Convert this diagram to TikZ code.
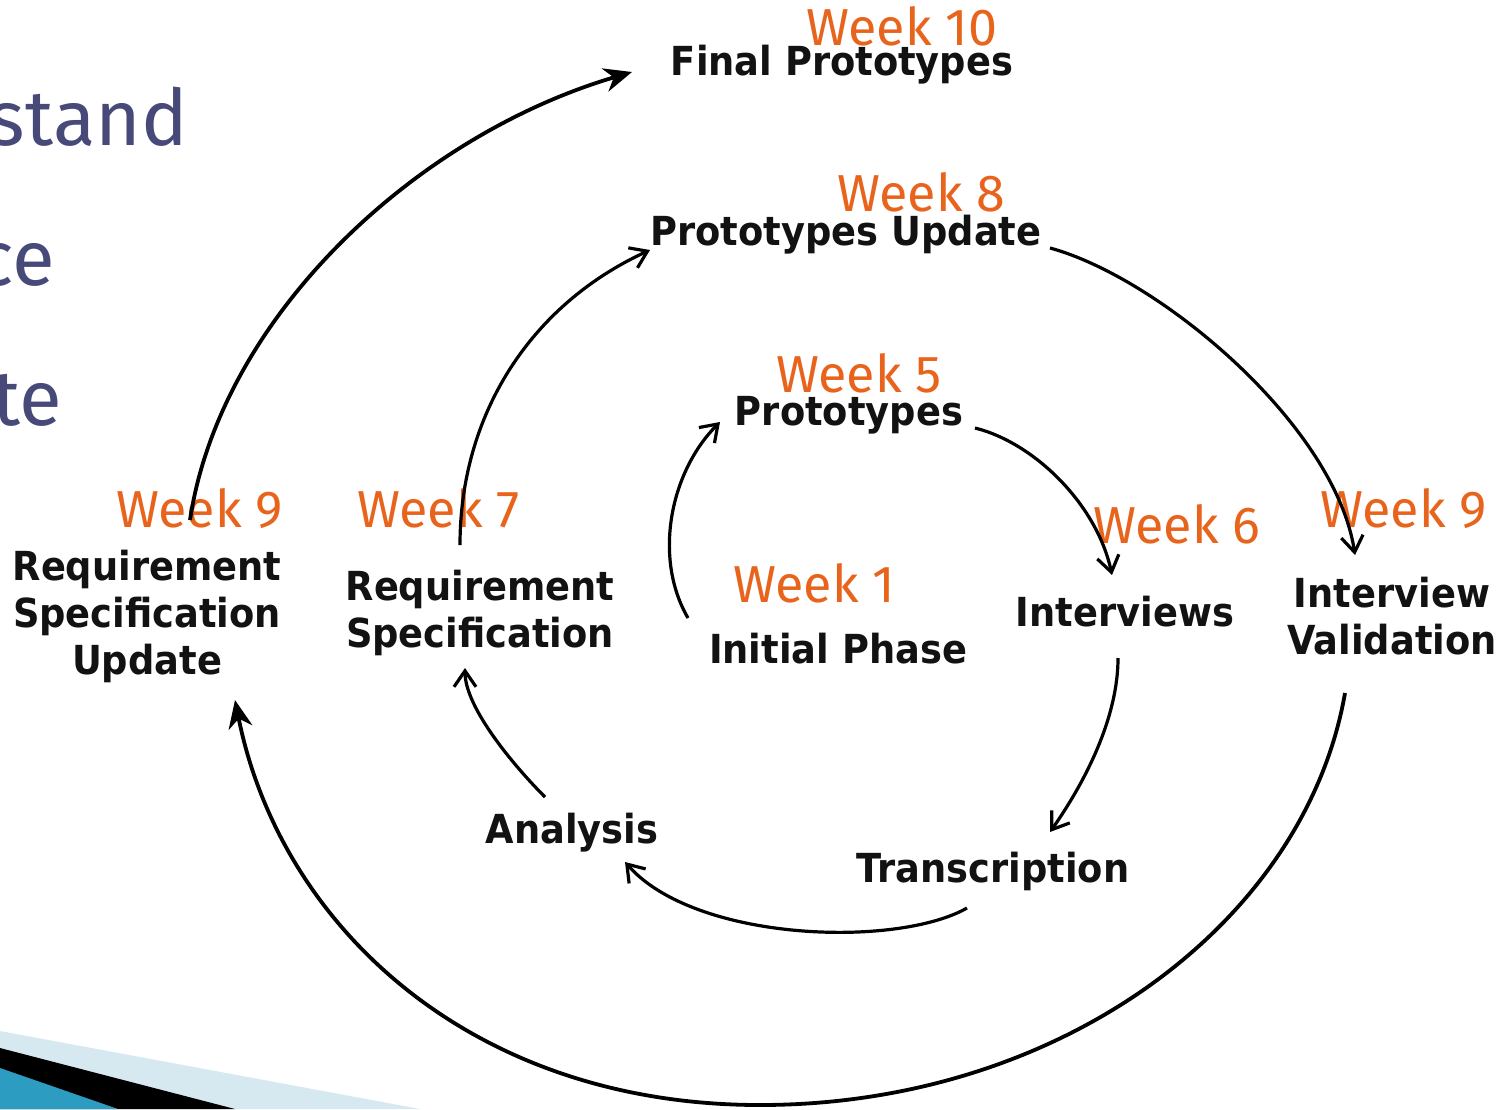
\documentclass[tikz,border=0pt]{standalone}
\usepackage{fontspec}
\usepackage{tikz}
\usetikzlibrary{arrows.meta}
\newfontfamily\weekfont{Fira Sans}
\newfontfamily\stagefont[FakeStretch=0.92]{DejaVu Sans}
\definecolor{weekorange}{HTML}{E8641C}
\definecolor{slideblue}{HTML}{474A79}
\definecolor{barlight}{HTML}{D6E9F1}
\definecolor{barblue}{HTML}{2C9DC0}

\tikzset{
  week/.style={anchor=base west, inner sep=0pt, text=weekorange,
    font=\weekfont\fontsize{52}{54}\selectfont},
  stage/.style={inner sep=0pt, align=center, text=black!93,
    font=\stagefont\bfseries\fontsize{40}{47}\selectfont},
  slide/.style={anchor=base east, inner sep=0pt, text=slideblue,
    font=\weekfont\fontsize{78}{80}\selectfont},
  flow/.style={line width=3.2pt, -{Straight Barb[length=16pt,width=22pt]}},
  bigflow/.style={line width=3.8pt, -{Stealth[length=28pt,width=24pt,inset=9pt]}}
}

\begin{document}
\begin{tikzpicture}[x=1pt,y=-1pt]
  \useasboundingbox[fill=white] (0,0) rectangle (1503,1109);

  % slide background
  \node[slide] (s1) at (188,145) {stand};
  \node[slide] (s2) at (55,285) {ce};
  \node[slide] (s3) at (62,425) {te};
  \fill[barlight] (0,1031) -- (420,1109) -- (0,1109) -- cycle;
  \fill[black] (0,1048) -- (235,1109) -- (0,1109) -- cycle;
  \fill[barblue] (0,1068) -- (118,1109) -- (0,1109) -- cycle;

  % stages
  \node[stage, anchor=base] (final) at (842,75) {Final Prototypes};
  \node[stage, anchor=base] (protoupd) at (846,245) {Prototypes Update};
  \node[stage, anchor=base] (proto) at (849,425) {Prototypes};
  \node[stage, anchor=north] (requpd) at (147,550) {Requirement\\Specification\\Update};
  \node[stage, anchor=north] (reqspec) at (480,570) {Requirement\\Specification};
  \node[stage, anchor=base] (init) at (838,663) {Initial Phase};
  \node[stage, anchor=base] (intv) at (1125,626) {Interviews};
  \node[stage, anchor=north] (valid) at (1392,577) {Interview\\Validation};
  \node[stage, anchor=base] (anal) at (572,843) {Analysis};
  \node[stage, anchor=base] (trans) at (993,882) {Transcription};

  % weeks
  \node[week] (w10) at (806,45) {Week 10};
  \node[week] (w8) at (837,211) {Week 8};
  \node[week] (w5) at (776,392) {Week 5};
  \node[week] (w9a) at (116,527) {Week 9};
  \node[week] (w7) at (357,527) {Week 7};
  \node[week] (w1) at (733,602) {Week 1};
  \node[week] (w6) at (1093,543) {Week 6};
  \node[week] (w9b) at (1320,527) {Week 9};

  % inner loop
  \draw[flow] ([shift={(-150,-45)}]init.base) .. controls +(-35,-60) and +(-50,50) .. ([shift={(-129,-3)}]proto.base);
  \draw[flow] ([shift={(126,3)}]proto.base) .. controls +(60,15) and +(-15,-70) .. ([shift={(-13,-51)}]intv.base);
  \draw[flow] ([shift={(-7,32)}]intv.base) .. controls +(0,60) and +(35,-50) .. ([shift={(57,-50)}]trans.base);
  \draw[flow] ([shift={(-26,26)}]trans.base) .. controls +(-70,40) and +(70,80) .. ([shift={(53,19)}]anal.base);
  \draw[flow] ([shift={(-27,-46)}]anal.base) .. controls +(-30,-30) and +(0,40) .. ([shift={(-15,98)}]reqspec.north);

  % middle loop
  \draw[flow] ([shift={(-20,-25)}]reqspec.north) .. controls +(0,-130) and +(-120,55) .. ([shift={(-196,5)}]protoupd.base);
  \draw[flow] ([shift={(204,3)}]protoupd.base) .. controls +(110,30) and +(-20,-130) .. ([shift={(-37,-22)}]valid.north);

  % outer loop
  \draw[bigflow] ([shift={(-47,116)}]valid.north) .. controls +(-40,230) and +(300,0) .. (760,1105)
    .. controls +(-290,0) and +(45,225) .. ([shift={(88,150)}]requpd.north);
  \draw[bigflow] ([shift={(43,-30)}]requpd.north) .. controls +(30,-200) and +(-220,65) .. ([shift={(-210,-3)}]final.base);
\end{tikzpicture}
\end{document}
